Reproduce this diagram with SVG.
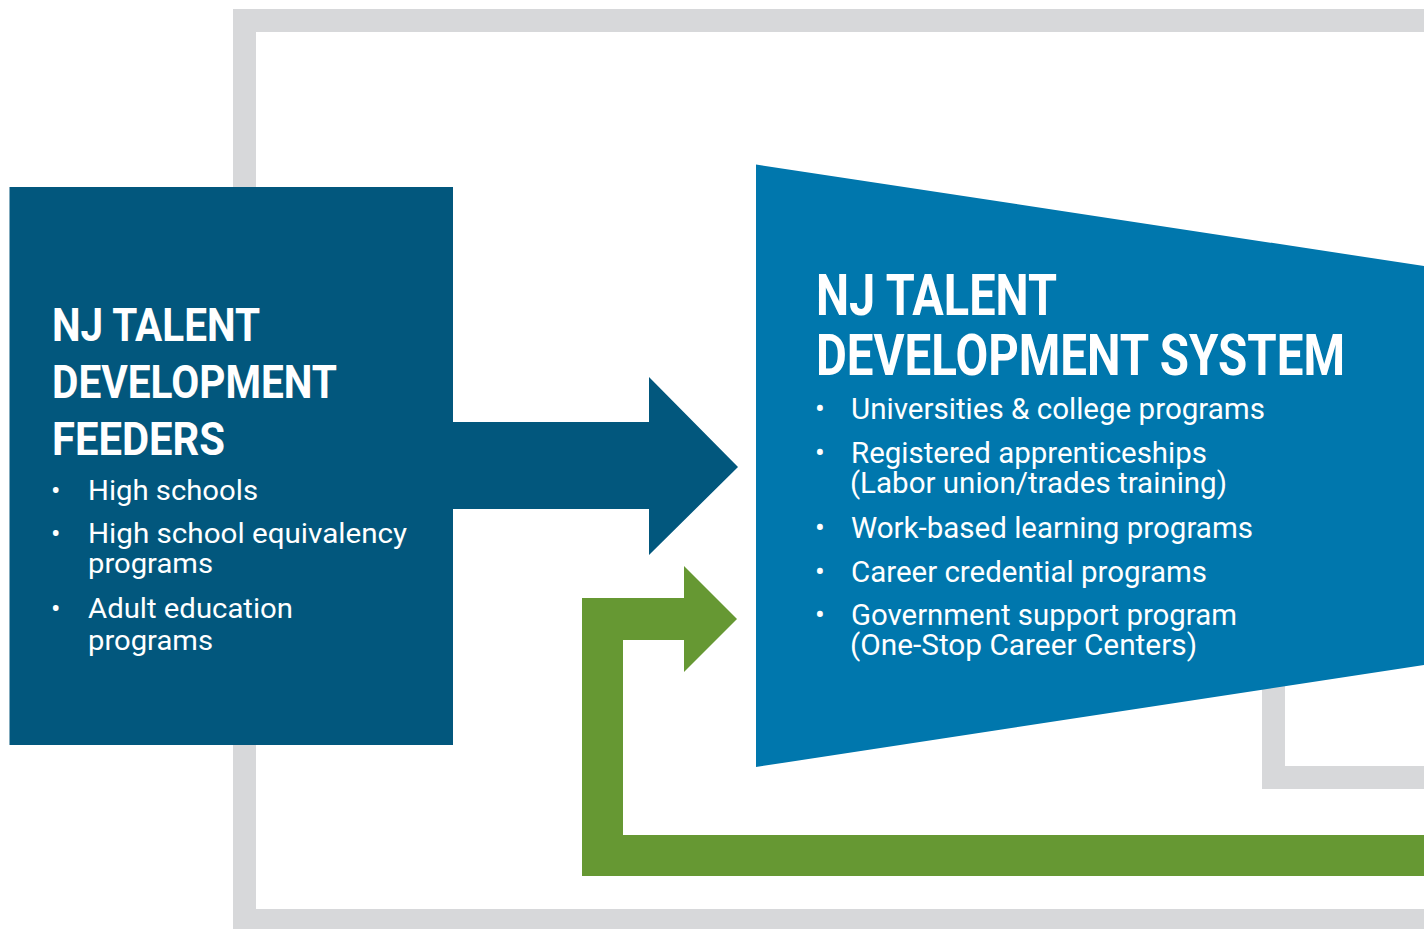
<svg xmlns="http://www.w3.org/2000/svg" width="1424" height="929" viewBox="0 0 1424 929">
<style>
.gray{fill:#D7D8DA}
.dark{fill:#02577D}
.mid{fill:#0077AD}
.green{fill:#669833}
.h{font-family:Roboto,"Liberation Sans",sans-serif;font-weight:700;fill:#fff}
.b{font-family:Roboto,"Liberation Sans",sans-serif;font-weight:400;fill:#fff}
</style>
<rect width="1424" height="929" fill="#fff"/>
<g id="frame">
<path class="gray" d="M233,9 H1424 V32 H256 V909 H1424 V929 H233 Z"/>
<path class="gray" d="M1262,680 H1285 V766 H1424 V789 H1262 Z"/>
</g>
<g id="connectors">
<path class="dark" d="M452,422 H649 V377 L738,467 L649,555 V509 H452 Z"/>
<path class="green" d="M1424,835 V876 H582 V598 H684 V566 L737,619 L684,672 V640 H623 V835 Z"/>
</g>
<g id="feeders">
<rect class="dark" x="9.5" y="187" width="443.5" height="558"/>
<text class="h" font-size="46" x="52" y="341" textLength="208" lengthAdjust="spacingAndGlyphs">NJ TALENT</text>
<text class="h" font-size="46" x="52" y="398" textLength="285" lengthAdjust="spacingAndGlyphs">DEVELOPMENT</text>
<text class="h" font-size="46" x="52" y="455" textLength="173" lengthAdjust="spacingAndGlyphs">FEEDERS</text>
<g class="b" font-size="28">
<text x="51" y="500">•</text>
<text x="88" y="500" textLength="170" lengthAdjust="spacingAndGlyphs">High schools</text>
<text x="51" y="543">•</text>
<text x="88" y="543" textLength="319" lengthAdjust="spacingAndGlyphs">High school equivalency</text>
<text x="88" y="573" textLength="125" lengthAdjust="spacingAndGlyphs">programs</text>
<text x="51" y="618">•</text>
<text x="88" y="618" textLength="205" lengthAdjust="spacingAndGlyphs">Adult education</text>
<text x="88" y="650" textLength="125" lengthAdjust="spacingAndGlyphs">programs</text>
</g>
</g>
<g id="system">
<path class="mid" d="M756,164.5 L1424,266 V665 L756,767 Z"/>
<text class="h" font-size="57" x="816" y="315" textLength="241" lengthAdjust="spacingAndGlyphs">NJ TALENT</text>
<text class="h" font-size="57" x="816" y="375" textLength="529" lengthAdjust="spacingAndGlyphs">DEVELOPMENT SYSTEM</text>
<g class="b" font-size="29">
<text x="815" y="419">•</text>
<text x="851" y="419" textLength="414" lengthAdjust="spacingAndGlyphs">Universities &amp; college programs</text>
<text x="815" y="463">•</text>
<text x="851" y="463" textLength="356" lengthAdjust="spacingAndGlyphs">Registered apprenticeships</text>
<text x="850" y="493" textLength="377" lengthAdjust="spacingAndGlyphs">(Labor union/trades training)</text>
<text x="815" y="538">•</text>
<text x="851" y="538" textLength="402" lengthAdjust="spacingAndGlyphs">Work-based learning programs</text>
<text x="815" y="582">•</text>
<text x="851" y="582" textLength="356" lengthAdjust="spacingAndGlyphs">Career credential programs</text>
<text x="815" y="625">•</text>
<text x="851" y="625" textLength="386" lengthAdjust="spacingAndGlyphs">Government support program</text>
<text x="850" y="655" textLength="347" lengthAdjust="spacingAndGlyphs">(One-Stop Career Centers)</text>
</g>
</g>
</svg>
